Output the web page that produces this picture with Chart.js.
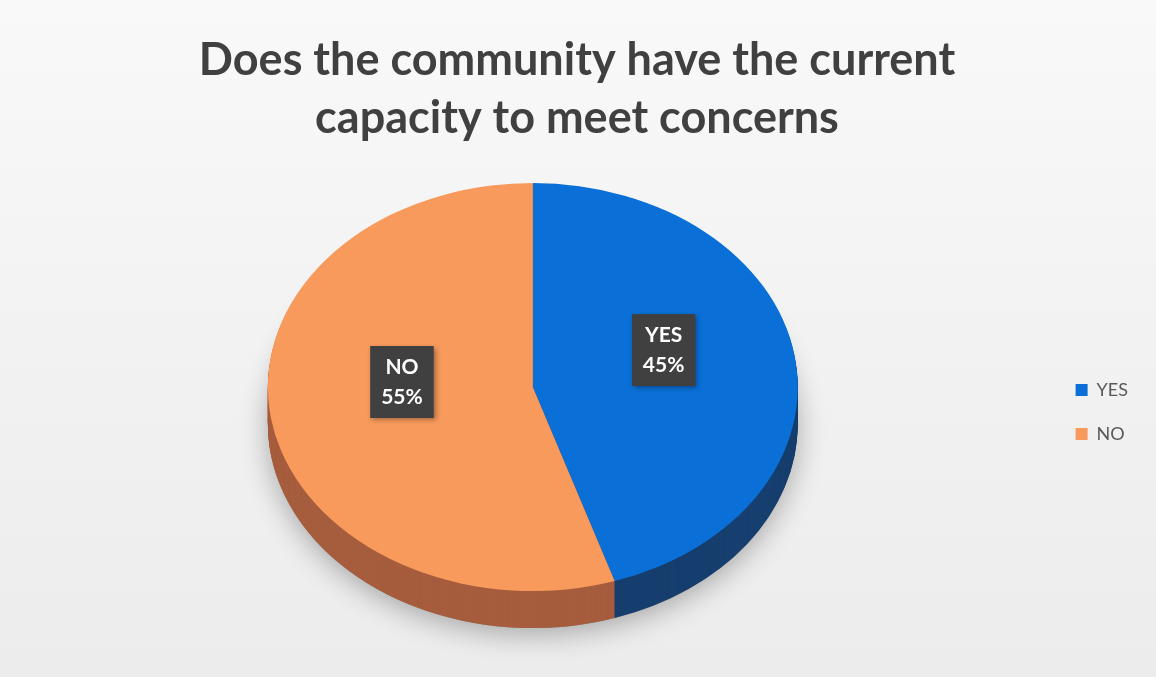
<!DOCTYPE html>
<html>
<head>
<meta charset="utf-8">
<script src="https://cdn.jsdelivr.net/npm/chart.js@4.4.1/dist/chart.umd.min.js"></script>
<style>
  html, body { margin: 0; padding: 0; overflow: hidden; }
  body {
    width: 1156px; height: 677px;
    background: linear-gradient(180deg, #f9f9f9 0%, #f2f2f2 50%, #ececec 100%);
  }
  #wrap { position: relative; width: 1156px; height: 677px; }
</style>
</head>
<body>
<div id="wrap"><canvas id="myChart"></canvas></div>
<script>
const categories = ['YES', 'NO'];
const shares = [45, 55];
const titleLines = ['Does the community have the current', 'capacity to meet concerns'];

const topColors = ['#0a6fd6', '#f79a5c'];
const sideColors = ['#163e6e', '#a65d3d'];

const FONT = "Lato, 'Open Sans', sans-serif";
const TILT = 0.77;      // vertical squash of the pie face
const LIFT = 25;        // top face sits this far above the plot centre
const DEPTH = 37;       // thickness of the pie wall
const LABEL_RAISE = 21; // labels sit a bit higher on the tilted face

// put the ctx into the tilted view, pushed down by d pixels
function applyView(ctx, c, d) {
  ctx.translate(0, c.y - LIFT + d);
  ctx.scale(1, TILT);
  ctx.translate(0, -c.y);
}

function sectorPath(ctx, a) {
  ctx.beginPath();
  ctx.moveTo(a.x, a.y);
  ctx.arc(a.x, a.y, a.outerRadius, a.startAngle, a.endAngle);
  ctx.closePath();
}

const pie3d = {
  id: 'pie3d',
  beforeDatasetsDraw(chart) {
    const ctx = chart.ctx;
    const arcs = chart.getDatasetMeta(0).data;
    const c = arcs[0];

    // soft shadow under the base
    ctx.save();
    applyView(ctx, c, DEPTH);
    ctx.shadowColor = 'rgba(0,0,0,0.3)';
    ctx.shadowBlur = 28;
    ctx.shadowOffsetY = 6;
    ctx.fillStyle = '#8a8a8a';
    ctx.beginPath();
    ctx.arc(c.x, c.y, c.outerRadius, 0, Math.PI * 2);
    ctx.fill();
    ctx.restore();

    // side wall, stacked from the bottom up
    for (let d = DEPTH; d > 0; d--) {
      arcs.forEach((a, i) => {
        ctx.save();
        applyView(ctx, c, d);
        ctx.fillStyle = sideColors[i];
        sectorPath(ctx, a);
        ctx.fill();
        ctx.restore();
      });
    }

    // the face itself is drawn by the controller inside this view
    ctx.save();
    applyView(ctx, c, 0);
  },
  afterDatasetsDraw(chart) {
    const ctx = chart.ctx;
    ctx.restore();

    const arcs = chart.getDatasetMeta(0).data;
    const c = arcs[0];
    ctx.save();
    ctx.font = "bold 21px " + FONT;
    ctx.textAlign = 'center';
    ctx.textBaseline = 'middle';
    arcs.forEach((a, i) => {
      const p = a.tooltipPosition();
      const x = p.x;
      const y = c.y - LIFT + (p.y - c.y) * TILT - LABEL_RAISE;
      const lines = [categories[i], shares[i] + '%'];
      const w = Math.max(...lines.map(t => ctx.measureText(t).width)) + 22;
      const h = 72;
      ctx.save();
      ctx.shadowColor = 'rgba(0,0,0,0.35)';
      ctx.shadowBlur = 5;
      ctx.shadowOffsetX = 2;
      ctx.shadowOffsetY = 2;
      ctx.fillStyle = '#404040';
      ctx.fillRect(x - w / 2, y - h / 2, w, h);
      ctx.restore();
      ctx.fillStyle = '#ffffff';
      ctx.fillText(lines[0], x, y - 15);
      ctx.fillText(lines[1], x, y + 15);
    });
    ctx.restore();
  }
};

new Chart(document.getElementById('myChart').getContext('2d'), {
  type: 'pie',
  data: {
    labels: categories,
    datasets: [{
      data: shares,
      backgroundColor: topColors,
      borderWidth: 0,
      clip: false
    }]
  },
  options: {
    responsive: true,
    maintainAspectRatio: false,
    animation: false,
    events: [],
    layout: { padding: { left: 16, right: 18, top: 0, bottom: 0 } },
    plugins: {
      title: {
        display: true,
        text: titleLines,
        color: '#404040',
        font: { family: FONT, size: 45, weight: 'bold', lineHeight: 1.29 },
        padding: { top: 31, bottom: 0 }
      },
      legend: {
        position: 'right',
        fullSize: false,
        labels: {
          boxWidth: 12,
          boxHeight: 12,
          padding: 26,
          color: '#595959',
          font: { family: FONT, size: 18 }
        }
      },
      tooltip: { enabled: false }
    }
  },
  plugins: [pie3d]
});
</script>
</body>
</html>
